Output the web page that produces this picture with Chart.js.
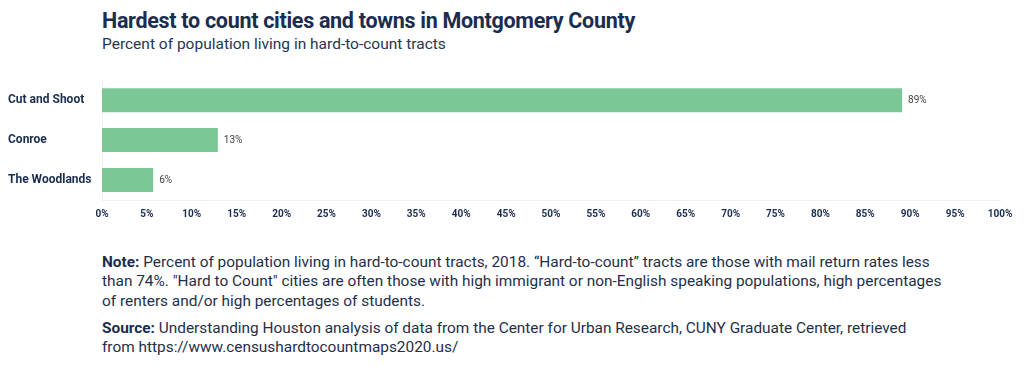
<!DOCTYPE html>
<html>
<head>
<meta charset="utf-8">
<script src="https://cdn.jsdelivr.net/npm/chart.js@4/dist/chart.umd.min.js"></script>
<style>
  body { margin: 0; background: #fff; font-family: Roboto, sans-serif; color: #1b2d4f; }
  #wrap { position: relative; width: 1024px; height: 391px; overflow: hidden; }
  #title { position: absolute; left: 102px; top: 8px; font-size: 21.5px; font-weight: 700; letter-spacing: -0.3px; }
  #subtitle { position: absolute; left: 102px; top: 35px; font-size: 15.5px; color: #26364f; }
  #box { position: absolute; left: 0; top: 64px; width: 1024px; height: 167px; }
  .note { position: absolute; left: 102px; white-space: nowrap; font-size: 15.4px; line-height: 19.3px; color: #1f2f4a; }
  .note b { color: #1b2d4f; }
</style>
</head>
<body>
<div id="wrap">
  <div id="title">Hardest to count cities and towns in Montgomery County</div>
  <div id="subtitle">Percent of population living in hard-to-count tracts</div>
  <div id="box"><canvas id="myChart"></canvas></div>
  <div class="note" style="top:253px"><b>Note:</b> Percent of population living in hard-to-count tracts, 2018. “Hard-to-count” tracts are those with mail return rates less<br>than 74%. "Hard to Count" cities are often those with high immigrant or non-English speaking populations, high percentages<br>of renters and/or high percentages of students.</div>
  <div class="note" style="top:319px"><b>Source:</b> Understanding Houston analysis of data from the Center for Urban Research, CUNY Graduate Center, retrieved<br>from https://www.censushardtocountmaps2020.us/</div>
</div>
<script>
(() => {
  'use strict'

  const cities = ['Cut and Shoot', 'Conroe', 'The Woodlands']
  const hardToCount = [89.1, 12.9, 5.7]
  const tickStep = 5

  // draws the "89%" labels at the end of each bar
  const barLabels = {
    id: 'barLabels',
    afterDatasetsDraw (chart) {
      const c = chart.ctx
      c.save()
      c.font = '10px Roboto'
      c.fillStyle = '#444'
      c.textBaseline = 'middle'
      chart.getDatasetMeta(0).data.forEach((bar, i) => {
        c.fillText(Math.round(hardToCount[i]) + '%', bar.x + 6, bar.y)
      })
      c.restore()
    }
  }

  const ctx = document.getElementById('myChart')

  new Chart(ctx, {
    type: 'bar',
    data: {
      labels: cities,
      datasets: [{
        data: hardToCount,
        backgroundColor: '#7bc896',
        barPercentage: 0.6,
        categoryPercentage: 1
      }]
    },
    plugins: [barLabels],
    options: {
      indexAxis: 'y',
      responsive: true,
      maintainAspectRatio: false,
      animation: false,
      layout: { padding: { top: 3, right: 24, bottom: 9, left: 8 } },
      plugins: {
        legend: { display: false },
        tooltip: { enabled: false }
      },
      scales: {
        x: {
          min: 0,
          max: 100,
          afterFit (scale) { scale.height = 22 },
          grid: { display: false, drawTicks: false },
          border: { display: true, color: '#eeeeee' },
          ticks: {
            stepSize: tickStep,
            padding: 8,
            color: '#1b2d4f',
            font: { family: 'Roboto', size: 10, weight: 'bold' },
            callback: v => v + '%'
          }
        },
        y: {
          afterFit (scale) { scale.width = 94 },
          grid: { display: false, drawTicks: false },
          border: { display: true, color: '#f2f2f2' },
          ticks: {
            crossAlign: 'far',
            padding: 9,
            color: '#1b2d4f',
            font: { family: 'Roboto', size: 12, weight: 'bold' }
          }
        }
      }
    }
  })
})()
</script>
</body>
</html>
